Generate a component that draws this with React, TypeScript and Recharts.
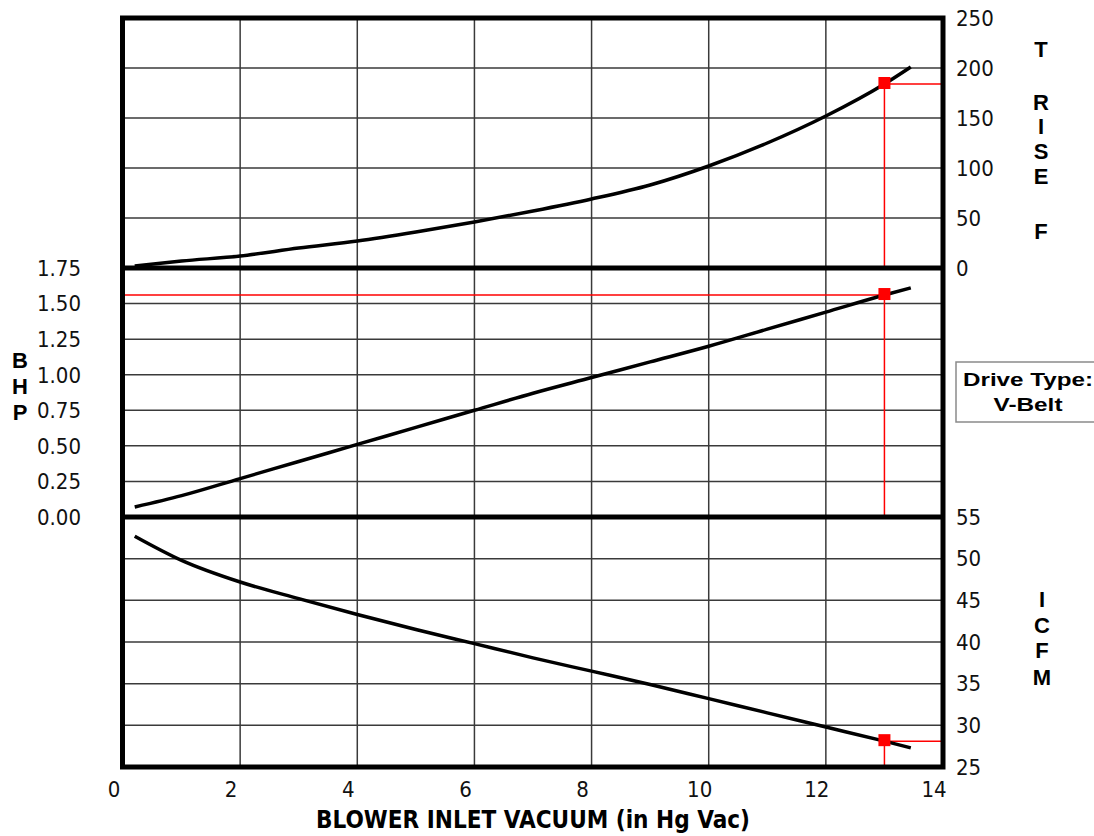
import React from 'react';
import {
  ComposedChart,
  Line,
  XAxis,
  YAxis,
  CartesianGrid,
  ReferenceLine,
  ReferenceDot,
} from 'recharts';

// ---- data ----
const VACUUM = [0.2, 1, 2, 3, 4, 5, 6, 7, 8, 9, 10, 11, 12, 13, 13.45];
const T_RISE = [2, 7, 12, 20, 27, 36, 46, 57, 69, 83, 102, 125, 152, 184, 201];
const BHP = [0.07, 0.15, 0.27, 0.39, 0.51, 0.63, 0.75, 0.87, 0.98, 1.09, 1.2, 1.32, 1.44, 1.56, 1.61];
const ICFM = [52.7, 49.8, 47.2, 45.2, 43.3, 41.5, 39.8, 38.1, 36.5, 34.9, 33.2, 31.5, 29.8, 28.1, 27.3];

const X_TICKS = [0, 2, 4, 6, 8, 10, 12, 14];
const T_TICKS = [0, 50, 100, 150, 200, 250];
const BHP_TICKS = [0, 0.25, 0.5, 0.75, 1, 1.25, 1.5, 1.75];
const ICFM_TICKS = [25, 30, 35, 40, 45, 50, 55];

const OP_VACUUM = 13;
const OP_T_RISE = 184;
const OP_BHP = 1.56;
const OP_ICFM = 28.1;

const data = VACUUM.map((v, i) => ({ vacuum: v, tRise: T_RISE[i], bhp: BHP[i], icfm: ICFM[i] }));

const W = 1094;
const H = 836;
const NARROW = '"Liberation Sans Narrow", "DejaVu Sans Condensed", "Roboto Condensed", sans-serif';
const BOLD = '"Liberation Sans", "DejaVu Sans", sans-serif';
const tickStyle = { fontFamily: NARROW, fontSize: 22, fill: '#111' };
const GRID = '#3a3a3a';
const RED = '#ff0000';

const Square = (p: any) => (
  <rect x={p.cx - 6} y={p.cy - 7} width={12} height={12} fill={RED} />
);

const layer: React.CSSProperties = { position: 'absolute', left: 0, top: 0 };

export default function App() {
  return (
    <div style={{ position: 'absolute', left: 0, top: 0, width: W, height: H, background: '#fff' }}>
      {/* Top panel: temperature rise */}
      <div style={layer}>
        <ComposedChart width={W} height={H} data={data} margin={{ top: 18, bottom: 568, left: 123, right: 91 }}>
          <CartesianGrid stroke={GRID} strokeWidth={1.5} />
          <XAxis dataKey="vacuum" type="number" domain={[0, 14]} ticks={X_TICKS} hide />
          <YAxis
            orientation="right"
            width={60}
            domain={[0, 250]}
            ticks={T_TICKS}
            axisLine={false}
            tickLine={false}
            tickSize={0}
            tickMargin={13}
            tick={{ ...tickStyle, textAnchor: 'start' }}
            interval={0}
          />
          <ReferenceLine segment={[{ x: OP_VACUUM, y: OP_T_RISE }, { x: OP_VACUUM, y: 0 }]} stroke={RED} strokeWidth={1.5} />
          <ReferenceLine segment={[{ x: OP_VACUUM, y: OP_T_RISE }, { x: 14, y: OP_T_RISE }]} stroke={RED} strokeWidth={1.5} />
          <ReferenceDot x={OP_VACUUM} y={OP_T_RISE} shape={Square} />
          <Line dataKey="tRise" type="monotone" stroke="#000" strokeWidth={3.5} dot={false} isAnimationActive={false} />
        </ComposedChart>
      </div>

      {/* Middle panel: BHP */}
      <div style={layer}>
        <ComposedChart width={W} height={H} data={data} margin={{ top: 268, bottom: 319, left: 23, right: 151 }}>
          <CartesianGrid stroke={GRID} strokeWidth={1.5} />
          <XAxis dataKey="vacuum" type="number" domain={[0, 14]} ticks={X_TICKS} hide />
          <YAxis
            orientation="left"
            width={100}
            domain={[0, 1.75]}
            ticks={BHP_TICKS}
            axisLine={false}
            tickLine={false}
            tickSize={0}
            tickMargin={42}
            tick={tickStyle}
            tickFormatter={(v: number) => v.toFixed(2)}
            interval={0}
          />
          <ReferenceLine segment={[{ x: 0, y: OP_BHP }, { x: OP_VACUUM, y: OP_BHP }]} stroke={RED} strokeWidth={1.5} />
          <ReferenceLine segment={[{ x: OP_VACUUM, y: OP_BHP }, { x: OP_VACUUM, y: 0 }]} stroke={RED} strokeWidth={1.5} />
          <ReferenceDot x={OP_VACUUM} y={OP_BHP} shape={Square} />
          <Line dataKey="bhp" type="monotone" stroke="#000" strokeWidth={3.5} dot={false} isAnimationActive={false} />
        </ComposedChart>
      </div>

      {/* Bottom panel: ICFM */}
      <div style={layer}>
        <ComposedChart width={W} height={H} data={data} margin={{ top: 517, bottom: 9, left: 123, right: 91 }}>
          <CartesianGrid stroke={GRID} strokeWidth={1.5} />
          <XAxis
            dataKey="vacuum"
            type="number"
            domain={[0, 14]}
            ticks={X_TICKS}
            height={60}
            axisLine={false}
            tickLine={false}
            tickSize={0}
            tickMargin={14}
            tick={{ ...tickStyle, dx: -9 }}
            interval={0}
          />
          <YAxis
            orientation="right"
            width={60}
            domain={[25, 55]}
            ticks={ICFM_TICKS}
            axisLine={false}
            tickLine={false}
            tickSize={0}
            tickMargin={13}
            tick={{ ...tickStyle, textAnchor: 'start' }}
            interval={0}
          />
          <ReferenceLine segment={[{ x: OP_VACUUM, y: OP_ICFM }, { x: OP_VACUUM, y: 25 }]} stroke={RED} strokeWidth={1.5} />
          <ReferenceLine segment={[{ x: OP_VACUUM, y: OP_ICFM }, { x: 14, y: OP_ICFM }]} stroke={RED} strokeWidth={1.5} />
          <ReferenceDot x={OP_VACUUM} y={OP_ICFM} shape={Square} />
          <Line dataKey="icfm" type="monotone" stroke="#000" strokeWidth={3.5} dot={false} isAnimationActive={false} />
        </ComposedChart>
      </div>

      {/* Frame and labels */}
      <svg width={W} height={H} style={{ ...layer, pointerEvents: 'none' }}>
        <rect x={122.5} y={18} width={820.5} height={749} fill="none" stroke="#000" strokeWidth={5} />
        <line x1={122.5} x2={943} y1={268} y2={268} stroke="#000" strokeWidth={5} />
        <line x1={122.5} x2={943} y1={517} y2={517} stroke="#000" strokeWidth={5} />

        <g fontFamily={BOLD} fontWeight="bold" fontSize={22} textAnchor="middle" fill="#000">
          <text x={1041} y={57}>T</text>
          <text x={1041} y={110}>R</text>
          <text x={1041} y={134}>I</text>
          <text x={1041} y={159}>S</text>
          <text x={1041} y={184}>E</text>
          <text x={1041} y={239}>F</text>

          <text x={20} y={368}>B</text>
          <text x={20} y={394}>H</text>
          <text x={20} y={420}>P</text>

          <text x={1042} y={607}>I</text>
          <text x={1042} y={633}>C</text>
          <text x={1042} y={658}>F</text>
          <text x={1042} y={685}>M</text>
        </g>

        <rect x={956} y={362} width={150} height={60} fill="none" stroke="#8a8a8a" strokeWidth={1.5} />
        <text x={1028} y={386} textAnchor="middle" fontFamily={BOLD} fontWeight="bold" fontSize={19} textLength={130} lengthAdjust="spacingAndGlyphs">Drive Type:</text>
        <text x={1028} y={411} textAnchor="middle" fontFamily={BOLD} fontWeight="bold" fontSize={19} textLength={69} lengthAdjust="spacingAndGlyphs">V-Belt</text>

        <text x={533} y={828} textAnchor="middle" fontFamily={NARROW} fontWeight="bold" fontSize={24} textLength={434} lengthAdjust="spacingAndGlyphs">BLOWER INLET VACUUM (in Hg Vac)</text>
      </svg>
    </div>
  );
}
